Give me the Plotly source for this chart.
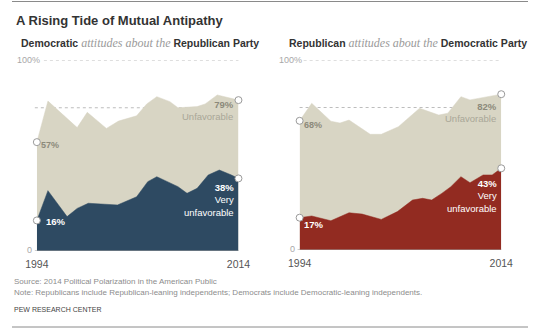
import plotly.graph_objects as go

W, H = 540, 330

# ---- data ----
years_ticks = [1994, 2014]

dem_unfav_x = [1994, 1995.1, 1998.0, 1999.0, 2000.9, 2002.1, 2003.9, 2004.9, 2005.9, 2007.2, 2008.0, 2009.9, 2010.7, 2011.9, 2014]
dem_unfav_y = [57, 78.5, 64.6, 72.6, 64.2, 68, 70.8, 77, 80.8, 78.2, 75, 75.6, 77, 81.7, 79]

dem_very_x = [1994, 1995.1, 1997.0, 1998.0, 1999.1, 2002.0, 2003.9, 2005.0, 2005.9, 2007.0, 2008.0, 2008.9, 2009.9, 2011.0, 2012.1, 2013.3, 2014]
dem_very_y = [16, 31.6, 18, 22.3, 25, 24.1, 28.4, 36.3, 38.9, 36, 33.7, 30.2, 32.8, 39.8, 42.4, 39.8, 38]

rep_unfav_x = [1994, 1995.2, 1997.1, 1998.0, 1998.9, 2001.0, 2002.1, 2003.8, 2005.9, 2007.8, 2008.7, 2010.0, 2010.9, 2014]
rep_unfav_y = [68, 77.2, 67.8, 66.8, 68.4, 60.9, 60.9, 64.9, 74.6, 71, 72, 80.7, 79, 82]

rep_very_x = [1994, 1995.2, 1997.1, 1998.9, 2000.2, 2002.1, 2003.7, 2005.2, 2006.2, 2007.1, 2008.1, 2009.0, 2010.0, 2010.9, 2012.2, 2013.1, 2014]
rep_very_y = [17, 17.9, 15.4, 19.6, 18.9, 16.1, 20.2, 26.3, 27.2, 26.3, 29.8, 33.3, 38.6, 35.4, 39.5, 39.5, 43]

BEIGE = "#D8D5C4"
NAVY = "#2E4A62"
RED = "#922B21"
LBL_DARK = "#8C8A7B"
LBL_LIGHT = "#A9A798"
FONT = "Liberation Sans, Arial, sans-serif"
SERIF = "Liberation Serif, Georgia, serif"

panels = [
    dict(xa="x", ya="y", ux=dem_unfav_x, uy=dem_unfav_y, vx=dem_very_x, vy=dem_very_y,
         color=NAVY, xpx=(26, 237), ypx=(251, 60),
         shift=dict(u0=(2, -3), u1=-10.5, v0=(7, -1), v1=-21.5), g100=0.035, g75=-0.01,
         sub_x=7, sub=("Democratic", "Republican Party")),
    dict(xa="x2", ya="y2", ux=rep_unfav_x, uy=rep_unfav_y, vx=rep_very_x, vy=rep_very_y,
         color=RED, xpx=(301, 512), ypx=(250, 60),
         shift=dict(u0=(2, -4), u1=-18.3, v0=(2, -7), v1=-28), g100=0.02, g75=0.0,
         sub_x=288, sub=("Republican", "Democratic Party")),
]

fig = go.Figure()
annotations = []
shapes = []
layout_axes = {}

for i, p in enumerate(panels):
    xa, ya = p["xa"], p["ya"]
    # unfavorable (beige) area
    fig.add_trace(go.Scatter(x=p["ux"], y=p["uy"], xaxis=xa, yaxis=ya, mode="lines",
                             fill="tozeroy", fillcolor=BEIGE, line=dict(color=BEIGE, width=0.5),
                             hoverinfo="skip", showlegend=False))
    # very unfavorable area
    fig.add_trace(go.Scatter(x=p["vx"], y=p["vy"], xaxis=xa, yaxis=ya, mode="lines",
                             fill="tozeroy", fillcolor=p["color"], line=dict(color=p["color"], width=0.5),
                             hoverinfo="skip", showlegend=False))
    # end markers
    mx = [p["ux"][0], p["ux"][-1], p["vx"][0], p["vx"][-1]]
    my = [p["uy"][0], p["uy"][-1], p["vy"][0], p["vy"][-1]]
    fig.add_trace(go.Scatter(x=mx, y=my, xaxis=xa, yaxis=ya, mode="markers", cliponaxis=False,
                             marker=dict(size=7, color="white", line=dict(color="#9A9A9A", width=1)),
                             hoverinfo="skip", showlegend=False))

    sfx = "" if i == 0 else "2"
    layout_axes["xaxis" + sfx] = dict(
        domain=[p["xpx"][0] / W, p["xpx"][1] / W], range=[1994, 2014], anchor=ya,
        tickvals=years_ticks, ticktext=[str(v) for v in years_ticks], ticks="",
        ticklabelstandoff=5,
        showgrid=False, zeroline=False, showline=False,
        tickfont=dict(family=FONT, size=10.5, color="#555"), fixedrange=True)
    layout_axes["yaxis" + sfx] = dict(
        domain=[1 - p["ypx"][0] / H, 1 - p["ypx"][1] / H], range=[0, 100], anchor=xa,
        showticklabels=False, showgrid=False, zeroline=False, showline=False, fixedrange=True)

    # dotted reference lines
    for yv, x0 in [(100, p["g100"]), (75, p["g75"])]:
        shapes.append(dict(type="line", xref=xa + " domain", yref=ya, x0=x0, x1=1, y0=yv, y1=yv,
                           line=dict(color="#BDBDBD", width=1, dash="dot"), layer="below"))
    # baseline
    shapes.append(dict(type="line", xref=xa + " domain", yref=ya, x0=-0.01, x1=1, y0=0, y1=0,
                       line=dict(color="#A0A0A0", width=1), layer="above"))
    # y labels
    annotations.append(dict(xref=xa + " domain", yref=ya, x=0, y=100, text="100%", showarrow=False,
                            xanchor="right", yanchor="middle", xshift=5 if i == 0 else 4,
                            font=dict(family=FONT, size=9, color="#A8A8A8")))
    annotations.append(dict(xref=xa + " domain", yref=ya, x=0, y=0, text="0", showarrow=False,
                            xanchor="right", yanchor="middle", xshift=-3, yshift=1,
                            font=dict(family=FONT, size=9, color="#A8A8A8")))

    s = p["shift"]
    # start labels
    annotations.append(dict(xref=xa, yref=ya, x=p["ux"][0], y=p["uy"][0], text=f"<b>{p['uy'][0]}%</b>",
                            showarrow=False, xanchor="left", yanchor="middle",
                            xshift=s["u0"][0], yshift=s["u0"][1],
                            font=dict(family=FONT, size=9, color=LBL_DARK)))
    annotations.append(dict(xref=xa, yref=ya, x=p["vx"][0], y=p["vy"][0], text=f"<b>{p['vy'][0]}%</b>",
                            showarrow=False, xanchor="left", yanchor="middle",
                            xshift=s["v0"][0], yshift=s["v0"][1],
                            font=dict(family=FONT, size=9.5, color="white")))
    # end labels
    annotations.append(dict(xref=xa, yref=ya, x=p["ux"][-1], y=p["uy"][-1],
                            text=f"<b>{p['uy'][-1]}%</b><br><span style='color:{LBL_LIGHT}'>Unfavorable</span>",
                            showarrow=False, xanchor="right", yanchor="middle", align="right",
                            xshift=-2, yshift=s["u1"],
                            font=dict(family=FONT, size=9.5, color=LBL_DARK)))
    annotations.append(dict(xref=xa, yref=ya, x=p["vx"][-1], y=p["vy"][-1],
                            text=f"<b>{p['vy'][-1]}%</b><br>Very<br>unfavorable",
                            showarrow=False, xanchor="right", yanchor="middle", align="right",
                            xshift=-2, yshift=s["v1"],
                            font=dict(family=FONT, size=9.5, color="white")))
    # subtitle
    b1, b2 = p["sub"]
    annotations.append(dict(xref="paper", yref="paper", x=p["sub_x"] / W, y=1 - 43 / H,
                            text=(f"<b>{b1}</b> <span style='font-family:{SERIF};font-style:italic;"
                                  f"color:#9A9A9A;font-size:12px'>attitudes about the</span> <b>{b2}</b>"),
                            showarrow=False, xanchor="left", yanchor="middle",
                            font=dict(family=FONT, size=10.5, color="#333")))

# title & footer
annotations.append(dict(xref="paper", yref="paper", x=2 / W, y=1 - 21 / H,
                        text="<b>A Rising Tide of Mutual Antipathy</b>", showarrow=False,
                        xanchor="left", yanchor="middle", font=dict(family=FONT, size=13, color="#333")))
annotations.append(dict(xref="paper", yref="paper", x=0, y=1 - 281.5 / H,
                        text="Source: 2014 Political Polarization in the American Public", showarrow=False,
                        xanchor="left", yanchor="middle", font=dict(family=FONT, size=8, color="#8C8C8C")))
annotations.append(dict(xref="paper", yref="paper", x=0, y=1 - 292.5 / H,
                        text="Note: Republicans include Republican-leaning independents; Democrats include Democratic-leaning independents.",
                        showarrow=False, xanchor="left", yanchor="middle",
                        font=dict(family=FONT, size=8, color="#8C8C8C")))
annotations.append(dict(xref="paper", yref="paper", x=0, y=1 - 309 / H,
                        text="PEW RESEARCH CENTER", showarrow=False,
                        xanchor="left", yanchor="middle", font=dict(family=FONT, size=7, color="#444")))

shapes.append(dict(type="line", xref="paper", yref="paper", x0=0, x1=1, y0=1 - 1.5 / H, y1=1 - 1.5 / H,
                   line=dict(color="#8A8A8A", width=1)))
shapes.append(dict(type="line", xref="paper", yref="paper", x0=0, x1=1, y0=1 - 327 / H, y1=1 - 327 / H,
                   line=dict(color="#8A8A8A", width=1)))

fig.update_layout(width=W, height=H, margin=dict(l=0, r=0, t=0, b=0),
                  paper_bgcolor="white", plot_bgcolor="white",
                  annotations=annotations, shapes=shapes, **layout_axes)

fig.write_html("out.html", config={"displayModeBar": False})
